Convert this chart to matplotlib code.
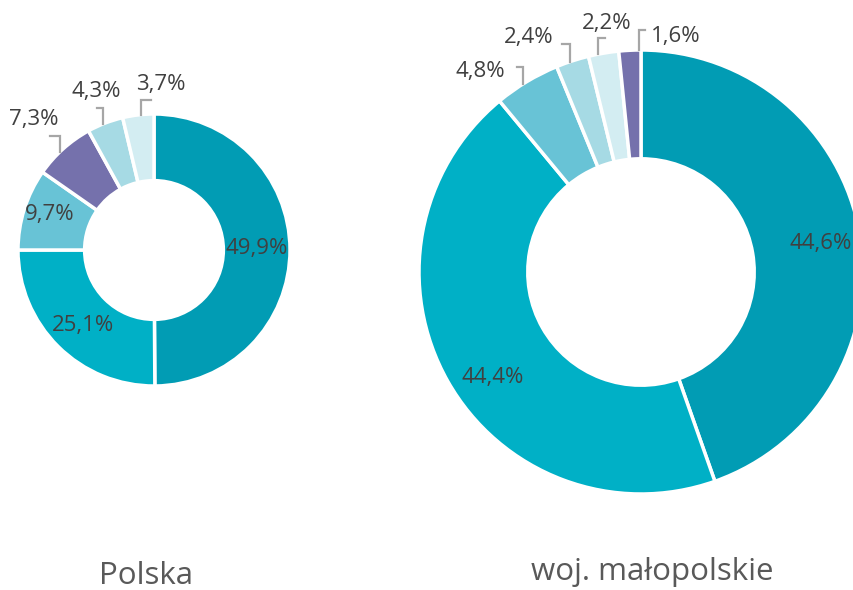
import numpy as np
import matplotlib.pyplot as plt

plt.rcParams['font.family'] = ['Open Sans', 'DejaVu Sans']

# data
pl_values = [49.9, 25.1, 9.7, 7.3, 4.3, 3.7]
pl_colors = ['#019cb4', '#00b0c6', '#68c3d6', '#7571ac', '#a6dae4', '#d3edf2']
mp_values = [44.6, 44.4, 4.8, 2.4, 2.2, 1.6]
mp_colors = ['#019cb4', '#00b0c6', '#68c3d6', '#a6dae4', '#d3edf2', '#7571ac']
titles = ['Polska', 'woj. małopolskie']

W, H = 854, 590
TXT = '#404040'

# label layout: ('in', radius fraction, angle shift) or
# ('out', angle shift, leader up, leader side, text dx, text dy)  [pixels]
pl_layout = [('in', 0.754, 0.9), ('in', 0.757, 1.6), ('in', 0.81, -1.6),
             ('out', 2, 16, -10, -26, 33), ('out', 0.9, 16, -6, -7, 32),
             ('out', -1, 15, 10, 20, 30)]
mp_layout = [('in', 0.82, -0.7), ('in', 0.818, 5.9),
             ('out', 1.1, 17, -6, -43, 12), ('out', 0.7, 18, -8, -41, 24),
             ('out', 1.5, 16, 7, 9, 31), ('out', -2.4, 20, 6, 37, 14)]


def fmt(v):
    return f"{v:.1f}".replace('.', ',') + '%'


def donut(ax, values, colors, cx, cy, r, layout):
    cy = H - cy
    wedges, _ = ax.pie(values, colors=colors, startangle=90, counterclock=False,
                       center=(cx, cy), radius=r,
                       wedgeprops=dict(width=r * 0.49, edgecolor='white', linewidth=2.5))
    for w, v, lay in zip(wedges, values, layout):
        mid = (w.theta1 + w.theta2) / 2
        if lay[0] == 'in':
            a = np.deg2rad(mid + lay[2])
            ax.text(cx + lay[1] * r * np.cos(a), cy + lay[1] * r * np.sin(a), fmt(v),
                    ha='center', va='center', fontsize=16, color=TXT)
        else:
            a = np.deg2rad(mid + lay[1])
            x0 = cx + r * np.cos(a)
            y0 = cy + r * np.sin(a)
            ax.plot([x0, x0, x0 + lay[3]], [y0, y0 + lay[2], y0 + lay[2]],
                    color='#a6a6a6', lw=1.6, solid_joinstyle='miter')
            ax.text(x0 + lay[4], y0 + lay[5], fmt(v), ha='center', va='center',
                    fontsize=16, color=TXT)


fig = plt.figure(figsize=(W / 100, H / 100), dpi=100)
ax = fig.add_axes([0, 0, 1, 1])

donut(ax, pl_values, pl_colors, 154, 250, 136, pl_layout)
donut(ax, mp_values, mp_colors, 641, 272, 222, mp_layout)

ax.text(146, H - 584, titles[0], ha='center', va='baseline', fontsize=22.5, color='#595959')
ax.text(652, H - 580, titles[1], ha='center', va='baseline', fontsize=22.5, color='#595959')

ax.set_xlim(0, W)
ax.set_ylim(0, H)
ax.set_aspect('equal')
ax.axis('off')

plt.savefig('out.png', dpi=100)
